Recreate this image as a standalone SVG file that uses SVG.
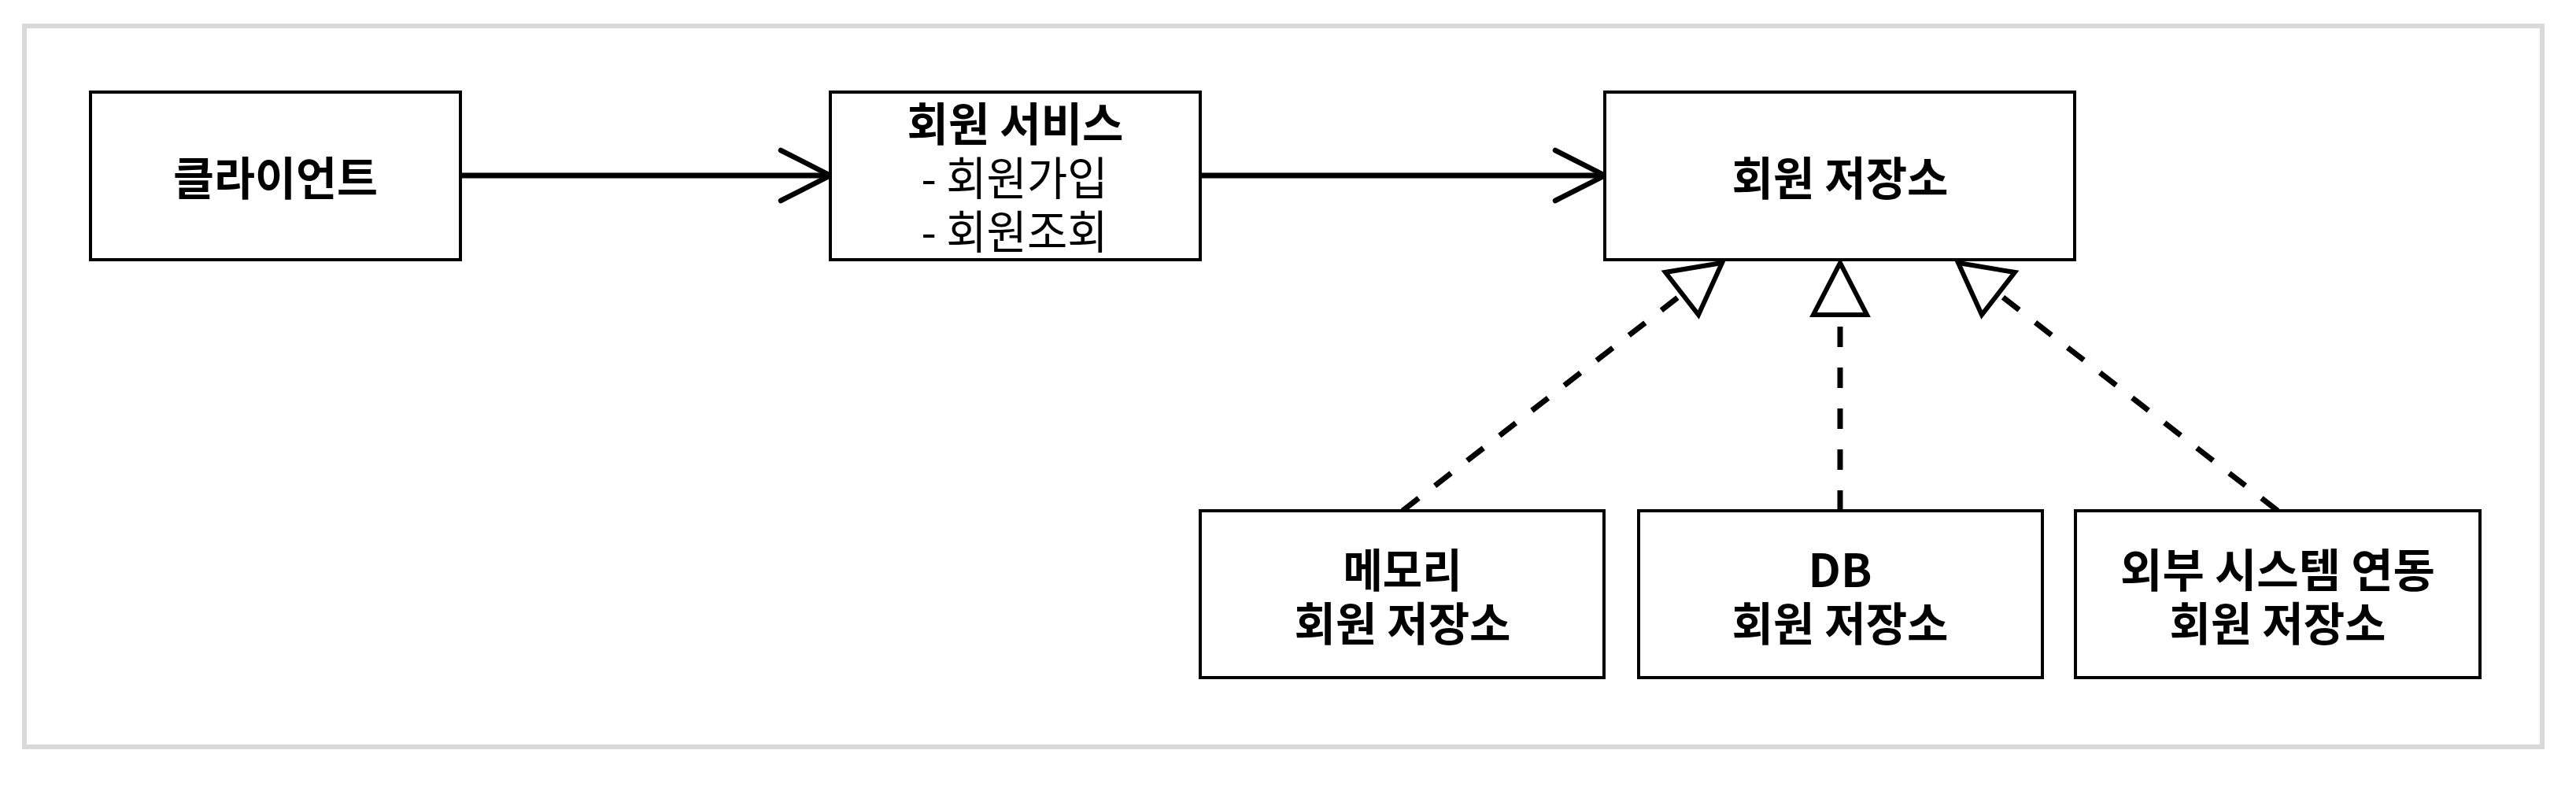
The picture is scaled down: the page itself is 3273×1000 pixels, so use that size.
<svg xmlns="http://www.w3.org/2000/svg" width="3273" height="1000" viewBox="0 0 3273 1000">
<style>
.box{fill:#fff;stroke:#000;stroke-width:4}
.t{font-family:"Noto Sans CJK KR","Noto Sans",sans-serif;font-size:58px;fill:#000;text-anchor:middle}
.b{font-weight:700}
.r{font-weight:400}
.assoc{fill:none;stroke:#000;stroke-width:7}
.head{fill:none;stroke:#000;stroke-width:6.5;stroke-linecap:round;stroke-linejoin:miter}
.dash{fill:none;stroke:#000;stroke-width:7;stroke-dasharray:26 26}
.tri{fill:#fff;stroke:#000;stroke-width:6;stroke-linejoin:miter}
</style>
<rect x="0" y="0" width="3273" height="1000" fill="#fff"/>
<rect x="31" y="33" width="3199" height="916" fill="#fff" stroke="#d9d9d9" stroke-width="6"/>

<g id="connectors">
  <line class="assoc" x1="585" y1="223" x2="1052" y2="223"/>
  <polyline class="head" points="992,191 1055,223 992,255"/>
  <line class="assoc" x1="1525" y1="223" x2="2036" y2="223"/>
  <polyline class="head" points="1976,191 2039,223 1976,255"/>

  <line class="dash" x1="1782" y1="649" x2="2137" y2="374"/>
  <polygon class="tri" points="2188,334 2158,400 2116,346"/>
  <line class="dash" x1="2338" y1="649" x2="2338" y2="400"/>
  <polygon class="tri" points="2338,334 2304,400 2372,400"/>
  <line class="dash" x1="2894" y1="649" x2="2540" y2="374"/>
  <polygon class="tri" points="2488,334 2560,346 2518,400"/>
</g>

<g id="client">
  <rect class="box" x="115" y="117" width="470" height="213"/>
  <text class="t b" x="350" y="248" textLength="260" lengthAdjust="spacingAndGlyphs">클라이언트</text>
</g>

<g id="member-service">
  <rect class="box" x="1055" y="117" width="470" height="213"/>
  <text class="t b" x="1290" y="179" textLength="275" lengthAdjust="spacingAndGlyphs">회원 서비스</text>
  <text class="t r" x="1289" y="248" textLength="237" lengthAdjust="spacingAndGlyphs">- 회원가입</text>
  <text class="t r" x="1289" y="316" textLength="237" lengthAdjust="spacingAndGlyphs">- 회원조회</text>
</g>

<g id="member-repository">
  <rect class="box" x="2039" y="117" width="597" height="213"/>
  <text class="t b" x="2338" y="248" textLength="275" lengthAdjust="spacingAndGlyphs">회원 저장소</text>
</g>

<g id="memory-repository">
  <rect class="box" x="1525" y="649" width="513" height="212"/>
  <text class="t b" x="1782" y="746" textLength="151" lengthAdjust="spacingAndGlyphs">메모리</text>
  <text class="t b" x="1782" y="814" textLength="275" lengthAdjust="spacingAndGlyphs">회원 저장소</text>
</g>

<g id="db-repository">
  <rect class="box" x="2082" y="649" width="513" height="212"/>
  <text class="t b" x="2338" y="746">DB</text>
  <text class="t b" x="2338" y="814" textLength="275" lengthAdjust="spacingAndGlyphs">회원 저장소</text>
</g>

<g id="external-repository">
  <rect class="box" x="2637" y="649" width="514" height="212"/>
  <text class="t b" x="2894" y="746" textLength="400" lengthAdjust="spacingAndGlyphs">외부 시스템 연동</text>
  <text class="t b" x="2894" y="814" textLength="275" lengthAdjust="spacingAndGlyphs">회원 저장소</text>
</g>
</svg>
